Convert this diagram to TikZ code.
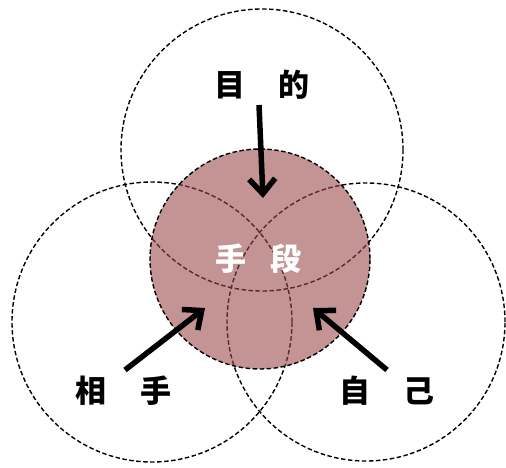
\documentclass[tikz,border=0pt]{standalone}
\usepackage{fontspec}
\newfontfamily\cjk{Noto Sans CJK JP}
\usetikzlibrary{arrows.meta}
\definecolor{rosefill}{RGB}{154,70,72}
\tikzset{
  ring/.style={draw=black, line width=1.4pt, dash pattern=on 4.5pt off 2.5pt},
  lbl/.style={font=\cjk\bfseries\fontsize{31}{31}\selectfont, inner sep=0pt},
  bigarrow/.style={line width=5.5pt, -{Straight Barb[length=15pt,width=26pt,line width=5.5pt]}}
}
\begin{document}
\begin{tikzpicture}[x=1pt,y=-1pt]
\useasboundingbox (0,0) rectangle (506,468);
\fill[white] (0,0) rectangle (506,468);
% three dashed circles
\node[ring, circle, minimum size=282pt, inner sep=0pt] (top) at (262,150) {};
\node[ring, circle, minimum size=280pt, inner sep=0pt] (left) at (152,322) {};
\node[ring, circle, minimum size=278pt, inner sep=0pt] (right) at (366,322) {};
% filled centre circle
\node[circle, minimum size=220pt, inner sep=0pt, fill=rosefill, fill opacity=0.58] (mid) at (260,259) {};
\node[ring, circle, minimum size=220pt, inner sep=0pt] (midring) at (260,259) {};
% labels
\node[lbl] (t1) at (230,85) {目};
\node[lbl] (t2) at (294,85) {的};
\node[lbl, text=white] (m1) at (231,259) {手};
\node[lbl, text=white] (m2) at (286,259) {段};
\node[lbl] (l1) at (91,391) {相};
\node[lbl] (l2) at (156,391) {手};
\node[lbl] (r1) at (355,391) {自};
\node[lbl] (r2) at (419,391) {己};
% arrows
\coordinate (a1s) at (259,105);
\coordinate (a1e) at (263,198);
\coordinate (a2s) at (125,370);
\coordinate (a2e) at (205,308);
\coordinate (a3s) at (387,370);
\coordinate (a3e) at (313,308);
\draw[bigarrow] (a1s) -- (a1e);
\draw[bigarrow] (a2s) -- (a2e);
\draw[bigarrow] (a3s) -- (a3e);
\end{tikzpicture}
\end{document}
